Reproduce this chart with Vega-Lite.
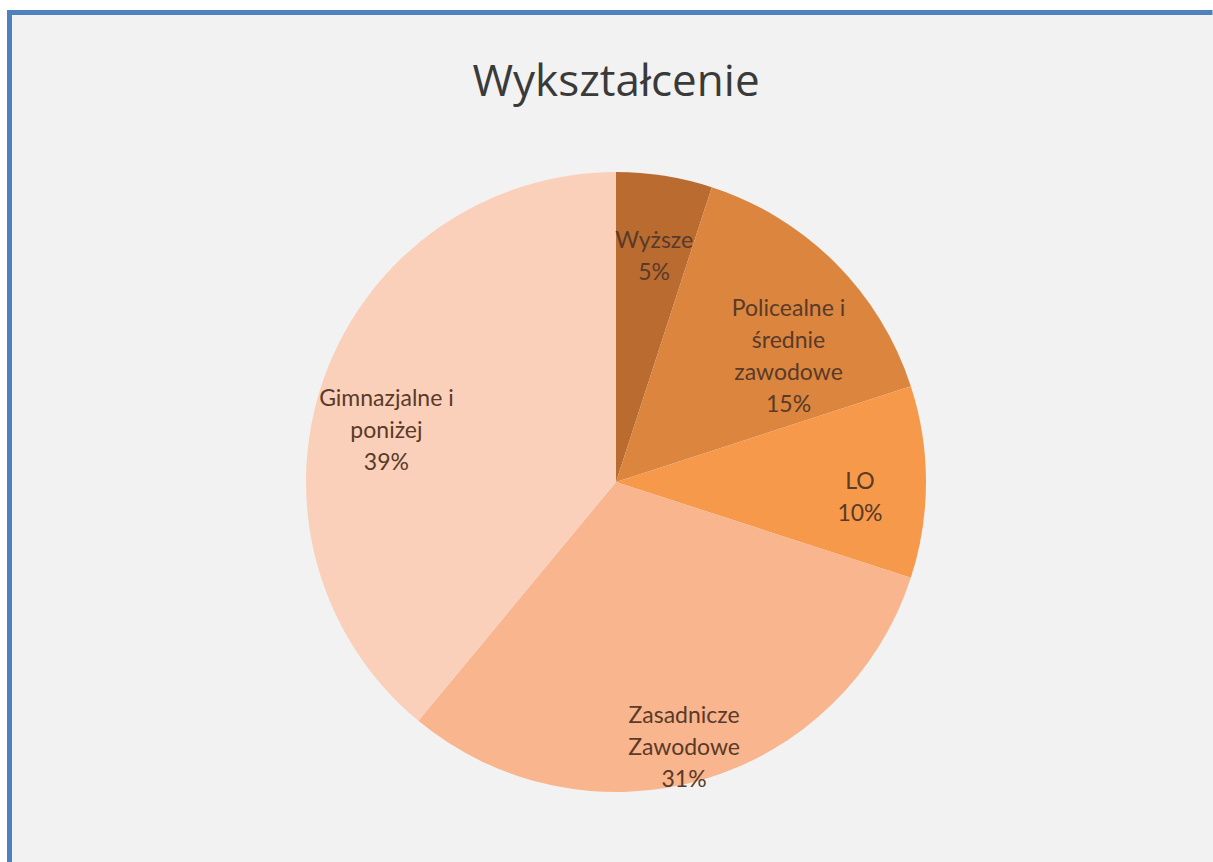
{
  "$schema": "https://vega.github.io/schema/vega-lite/v6.json",
  "width": 1213,
  "height": 862,
  "autosize": {"type": "fit", "contains": "padding"},
  "padding": {"left": 9.5, "top": 12.5, "right": -9.5, "bottom": -89.5},
  "background": "#ffffff",
  "view": {"stroke": "#4f81bd", "strokeWidth": 5, "fill": "#f2f2f2", "strokeDash": [1203, 2000, 100000]},
  "title": {
    "text": "Wykształcenie",
    "font": "Open Sans",
    "fontSize": 44,
    "fontWeight": "normal",
    "color": "#3a3a3a",
    "anchor": "middle",
    "frame": "group",
    "offset": -92
  },
  "data": {
    "values": [
      {"o": 1, "kategoria": "Wyższe", "label": "Wyższe\n5%", "procent": 5},
      {"o": 2, "kategoria": "Policealne i średnie zawodowe", "label": "Policealne i\nśrednie\nzawodowe\n15%", "procent": 15},
      {"o": 3, "kategoria": "LO", "label": "LO\n10%", "procent": 10},
      {"o": 4, "kategoria": "Zasadnicze Zawodowe", "label": "Zasadnicze\nZawodowe\n31%", "procent": 31},
      {"o": 5, "kategoria": "Gimnazjalne i poniżej", "label": "Gimnazjalne i\nponiżej\n39%", "procent": 39}
    ]
  },
  "encoding": {
    "theta": {"field": "procent", "type": "quantitative", "stack": true},
    "order": {"field": "o", "type": "quantitative"}
  },
  "layer": [
    {
      "mark": {"type": "arc", "outerRadius": 310, "stroke": null},
      "encoding": {
        "color": {
          "field": "kategoria",
          "type": "nominal",
          "scale": {
            "domain": ["Wyższe", "Policealne i średnie zawodowe", "LO", "Zasadnicze Zawodowe", "Gimnazjalne i poniżej"],
            "range": ["#b96b30", "#db853f", "#f6994a", "#f8b58e", "#fad0ba"]
          },
          "legend": null
        }
      }
    },
    {
      "mark": {
        "type": "text",
        "radius": 244,
        "font": "Lato",
        "fontSize": 23,
        "lineHeight": 32,
        "lineBreak": "\n",
        "color": "#5a3a28",
        "align": "center",
        "baseline": "middle"
      },
      "encoding": {
        "text": {"field": "label", "type": "nominal"}
      }
    }
  ]
}
